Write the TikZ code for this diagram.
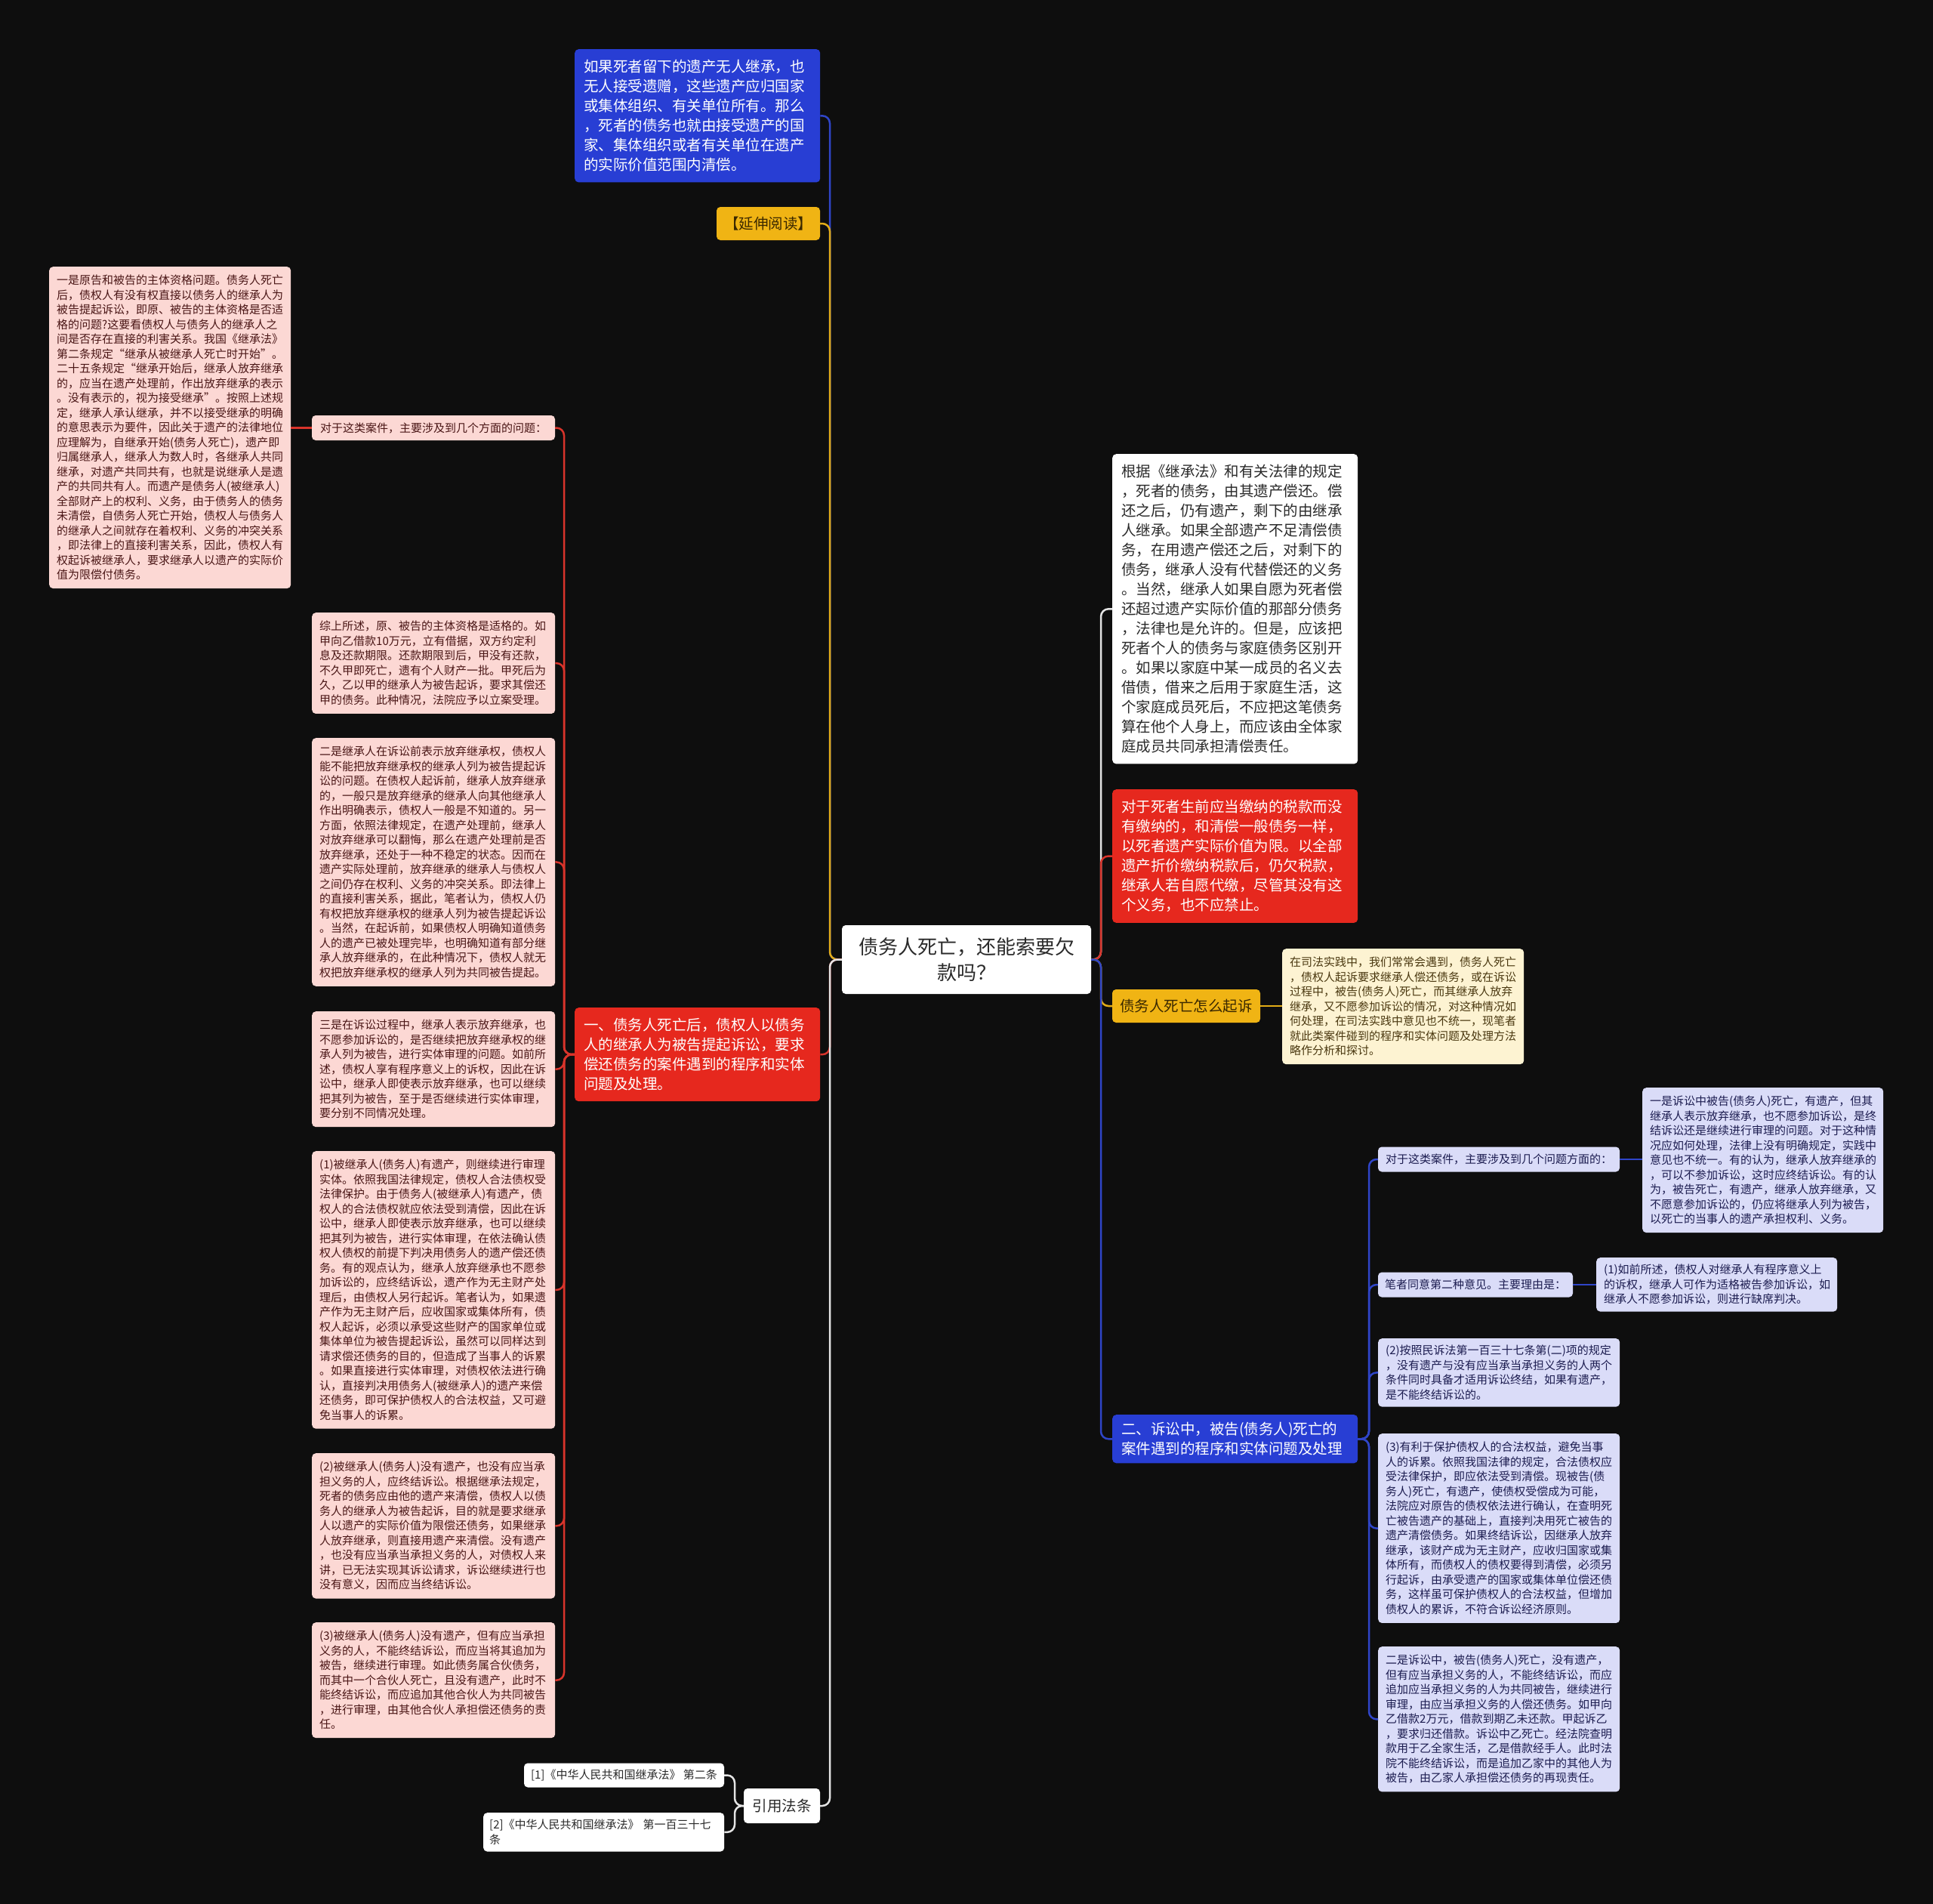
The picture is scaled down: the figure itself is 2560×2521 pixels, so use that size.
\documentclass[tikz,border=0pt]{standalone}
\usepackage{fontspec}
\newfontfamily\zh{Noto Sans CJK SC}
\usetikzlibrary{positioning,calc}
\definecolor{bg}{HTML}{0E0E0E}
\definecolor{bluebg}{HTML}{283ED4}
\definecolor{redbg}{HTML}{E6281E}
\definecolor{yellowbg}{HTML}{F0B414}
\definecolor{pinkbg}{HTML}{FCD8D4}
\definecolor{pinktx}{HTML}{4A1616}
\definecolor{lavbg}{HTML}{DADCF8}
\definecolor{lavtx}{HTML}{1C1C50}
\definecolor{creambg}{HTML}{FDF3D2}
\definecolor{creamtx}{HTML}{4A3810}
\definecolor{yellowtx}{HTML}{3A2800}
\definecolor{greytx}{HTML}{2A2A2A}
\definecolor{blueln}{HTML}{2F45C8}
\definecolor{redln}{HTML}{D9342B}
\definecolor{yellowln}{HTML}{E2AC17}
\definecolor{whiteln}{HTML}{E4E4E4}

\begin{document}
\begin{tikzpicture}[x=1pt,y=-1pt,
  sfont/.style={font=\zh\fontsize{15}{19.5}\selectfont},
  bfont/.style={font=\zh\fontsize{19.5}{26}\selectfont},
  box/.style={sfont,rounded corners=5pt,inner xsep=10pt,inner ysep=11pt,align=left,text width=302pt,anchor=north west},
  bigbox/.style={box,bfont,inner xsep=12pt,inner ysep=14pt,text width=301pt},
  pinkbox/.style={box,fill=pinkbg,text=pinktx},
  lavbox/.style={box,fill=lavbg,text=lavtx},
  tag/.style={rounded corners=5pt,inner sep=0pt,align=center},
  link/.style={line width=2.5pt,rounded corners=10pt}]
\useasboundingbox (0,0) rectangle (2560,2521);
\fill[bg] (0,0) rectangle (2560,2521);

\node[tag,fill=white,text=greytx,font=\zh\fontsize{26}{34}\selectfont,minimum width=330pt,minimum height=91pt] (root) at (1280,1270.5) {债务人死亡，还能索要欠\\款吗？};

\node[bigbox,fill=bluebg,text=white] (estate) at (761,65) {如果死者留下的遗产无人继承，也\\无人接受遗赠，这些遗产应归国家\\或集体组织、有关单位所有。那么\\，死者的债务也就由接受遗产的国\\家、集体组织或者有关单位在遗产\\的实际价值范围内清偿。};
\node[tag,bfont,fill=yellowbg,text=yellowtx,minimum width=137pt,minimum height=44pt] (readmore) at (1017.5,296) {【延伸阅读】};
\node[bigbox,fill=redbg,text=white] (part1) at (761,1334) {一、债务人死亡后，债权人以债务\\人的继承人为被告提起诉讼，要求\\偿还债务的案件遇到的程序和实体\\问题及处理。};
\node[tag,bfont,fill=white,text=greytx,minimum width=101pt,minimum height=46pt] (cite) at (1035.5,2391) {引用法条};
\node[tag,sfont,fill=white,text=greytx,minimum width=265pt,minimum height=32pt] (c1) at (826.5,2350.5) {[1]《中华人民共和国继承法》~第二条};
\node[box,fill=white,text=greytx,inner xsep=8pt,inner ysep=9pt,text width=303pt] (c2) at (640,2400) {[2]《中华人民共和国继承法》~第一百三十七\\条};

\node[tag,sfont,fill=pinkbg,text=pinktx,minimum width=322pt,minimum height=33pt] (p1q) at (574,566.5) {对于这类案件，主要涉及到几个方面的问题：};
\node[pinkbox,text width=300pt] (p1a) at (65,353) {一是原告和被告的主体资格问题。债务人死亡\\后，债权人有没有权直接以债务人的继承人为\\被告提起诉讼，即原、被告的主体资格是否适\\格的问题?这要看债权人与债务人的继承人之\\间是否存在直接的利害关系。我国《继承法》\\第二条规定“继承从被继承人死亡时开始”。\\二十五条规定“继承开始后，继承人放弃继承\\的，应当在遗产处理前，作出放弃继承的表示\\。没有表示的，视为接受继承”。按照上述规\\定，继承人承认继承，并不以接受继承的明确\\的意思表示为要件，因此关于遗产的法律地位\\应理解为，自继承开始(债务人死亡)，遗产即\\归属继承人，继承人为数人时，各继承人共同\\继承，对遗产共同共有，也就是说继承人是遗\\产的共同共有人。而遗产是债务人(被继承人)\\全部财产上的权利、义务，由于债务人的债务\\未清偿，自债务人死亡开始，债权人与债务人\\的继承人之间就存在着权利、义务的冲突关系\\，即法律上的直接利害关系，因此，债权人有\\权起诉被继承人，要求继承人以遗产的实际价\\值为限偿付债务。};
\node[pinkbox] (p1b) at (413,811) {综上所述，原、被告的主体资格是适格的。如\\甲向乙借款10万元，立有借据，双方约定利\\息及还款期限。还款期限到后，甲没有还款，\\不久甲即死亡，遗有个人财产一批。甲死后为\\久，乙以甲的继承人为被告起诉，要求其偿还\\甲的债务。此种情况，法院应予以立案受理。};
\node[pinkbox] (p1c) at (413,977) {二是继承人在诉讼前表示放弃继承权，债权人\\能不能把放弃继承权的继承人列为被告提起诉\\讼的问题。在债权人起诉前，继承人放弃继承\\的，一般只是放弃继承的继承人向其他继承人\\作出明确表示，债权人一般是不知道的。另一\\方面，依照法律规定，在遗产处理前，继承人\\对放弃继承可以翻悔，那么在遗产处理前是否\\放弃继承，还处于一种不稳定的状态。因而在\\遗产实际处理前，放弃继承的继承人与债权人\\之间仍存在权利、义务的冲突关系。即法律上\\的直接利害关系，据此，笔者认为，债权人仍\\有权把放弃继承权的继承人列为被告提起诉讼\\。当然，在起诉前，如果债权人明确知道债务\\人的遗产已被处理完毕，也明确知道有部分继\\承人放弃继承的，在此种情况下，债权人就无\\权把放弃继承权的继承人列为共同被告提起。};
\node[pinkbox] (p1d) at (413,1339) {三是在诉讼过程中，继承人表示放弃继承，也\\不愿参加诉讼的，是否继续把放弃继承权的继\\承人列为被告，进行实体审理的问题。如前所\\述，债权人享有程序意义上的诉权，因此在诉\\讼中，继承人即使表示放弃继承，也可以继续\\把其列为被告，至于是否继续进行实体审理，\\要分别不同情况处理。};
\node[pinkbox] (p1e) at (413,1524) {(1)被继承人(债务人)有遗产，则继续进行审理\\实体。依照我国法律规定，债权人合法债权受\\法律保护。由于债务人(被继承人)有遗产，债\\权人的合法债权就应依法受到清偿，因此在诉\\讼中，继承人即使表示放弃继承，也可以继续\\把其列为被告，进行实体审理，在依法确认债\\权人债权的前提下判决用债务人的遗产偿还债\\务。有的观点认为，继承人放弃继承也不愿参\\加诉讼的，应终结诉讼，遗产作为无主财产处\\理后，由债权人另行起诉。笔者认为，如果遗\\产作为无主财产后，应收国家或集体所有，债\\权人起诉，必须以承受这些财产的国家单位或\\集体单位为被告提起诉讼，虽然可以同样达到\\请求偿还债务的目的，但造成了当事人的诉累\\。如果直接进行实体审理，对债权依法进行确\\认，直接判决用债务人(被继承人)的遗产来偿\\还债务，即可保护债权人的合法权益，又可避\\免当事人的诉累。};
\node[pinkbox] (p1f) at (413,1924) {(2)被继承人(债务人)没有遗产，也没有应当承\\担义务的人，应终结诉讼。根据继承法规定，\\死者的债务应由他的遗产来清偿，债权人以债\\务人的继承人为被告起诉，目的就是要求继承\\人以遗产的实际价值为限偿还债务，如果继承\\人放弃继承，则直接用遗产来清偿。没有遗产\\，也没有应当承当承担义务的人，对债权人来\\讲，已无法实现其诉讼请求，诉讼继续进行也\\没有意义，因而应当终结诉讼。};
\node[pinkbox] (p1g) at (413,2148) {(3)被继承人(债务人)没有遗产，但有应当承担\\义务的人，不能终结诉讼，而应当将其追加为\\被告，继续进行审理。如此债务属合伙债务，\\而其中一个合伙人死亡，且没有遗产，此时不\\能终结诉讼，而应追加其他合伙人为共同被告\\，进行审理，由其他合伙人承担偿还债务的责\\任。};

\node[bigbox,fill=white,text=greytx] (rule) at (1473,601) {根据《继承法》和有关法律的规定\\，死者的债务，由其遗产偿还。偿\\还之后，仍有遗产，剩下的由继承\\人继承。如果全部遗产不足清偿债\\务，在用遗产偿还之后，对剩下的\\债务，继承人没有代替偿还的义务\\。当然，继承人如果自愿为死者偿\\还超过遗产实际价值的那部分债务\\，法律也是允许的。但是，应该把\\死者个人的债务与家庭债务区别开\\。如果以家庭中某一成员的名义去\\借债，借来之后用于家庭生活，这\\个家庭成员死后，不应把这笔债务\\算在他个人身上，而应该由全体家\\庭成员共同承担清偿责任。};
\node[bigbox,fill=redbg,text=white] (tax) at (1473,1045) {对于死者生前应当缴纳的税款而没\\有缴纳的，和清偿一般债务一样，\\以死者遗产实际价值为限。以全部\\遗产折价缴纳税款后，仍欠税款，\\继承人若自愿代缴，尽管其没有这\\个义务，也不应禁止。};
\node[tag,bfont,fill=yellowbg,text=yellowtx,minimum width=196pt,minimum height=44pt] (howsue) at (1571,1332) {债务人死亡怎么起诉};
\node[box,fill=creambg,text=creamtx,text width=300pt] (sueintro) at (1698,1256) {在司法实践中，我们常常会遇到，债务人死亡\\，债权人起诉要求继承人偿还债务，或在诉讼\\过程中，被告(债务人)死亡，而其继承人放弃\\继承，又不愿参加诉讼的情况，对这种情况如\\何处理，在司法实践中意见也不统一，现笔者\\就此类案件碰到的程序和实体问题及处理方法\\略作分析和探讨。};
\node[bigbox,fill=bluebg,text=white,inner ysep=10pt] (part2) at (1473,1873) {二、诉讼中，被告(债务人)死亡的\\案件遇到的程序和实体问题及处理};

\node[tag,sfont,fill=lavbg,text=lavtx,minimum width=320pt,minimum height=33pt] (p2q) at (1985,1535) {对于这类案件，主要涉及到几个问题方面的：};
\node[lavbox,text width=299pt] (p2qa) at (2175,1440) {一是诉讼中被告(债务人)死亡，有遗产，但其\\继承人表示放弃继承，也不愿参加诉讼，是终\\结诉讼还是继续进行审理的问题。对于这种情\\况应如何处理，法律上没有明确规定，实践中\\意见也不统一。有的认为，继承人放弃继承的\\，可以不参加诉讼，这时应终结诉讼。有的认\\为，被告死亡，有遗产，继承人放弃继承，又\\不愿意参加诉讼的，仍应将继承人列为被告，\\以死亡的当事人的遗产承担权利、义务。};
\node[tag,sfont,fill=lavbg,text=lavtx,minimum width=258pt,minimum height=33pt] (p2r) at (1954,1701) {笔者同意第二种意见。主要理由是：};
\node[lavbox,text width=299pt,inner ysep=9pt] (p2r1) at (2114,1665) {(1)如前所述，债权人对继承人有程序意义上\\的诉权，继承人可作为适格被告参加诉讼，如\\继承人不愿参加诉讼，则进行缺席判决。};
\node[lavbox,text width=300pt,inner ysep=9pt] (p2r2) at (1825,1772) {(2)按照民诉法第一百三十七条第(二)项的规定\\，没有遗产与没有应当承当承担义务的人两个\\条件同时具备才适用诉讼终结，如果有遗产，\\是不能终结诉讼的。};
\node[lavbox,text width=300pt] (p2r3) at (1825,1898) {(3)有利于保护债权人的合法权益，避免当事\\人的诉累。依照我国法律的规定，合法债权应\\受法律保护，即应依法受到清偿。现被告(债\\务人)死亡，有遗产，使债权受偿成为可能，\\法院应对原告的债权依法进行确认，在查明死\\亡被告遗产的基础上，直接判决用死亡被告的\\遗产清偿债务。如果终结诉讼，因继承人放弃\\继承，该财产成为无主财产，应收归国家或集\\体所有，而债权人的债权要得到清偿，必须另\\行起诉，由承受遗产的国家或集体单位偿还债\\务，这样虽可保护债权人的合法权益，但增加\\债权人的累诉，不符合诉讼经济原则。};
\node[lavbox,text width=300pt] (p2two) at (1825,2180) {二是诉讼中，被告(债务人)死亡，没有遗产，\\但有应当承担义务的人，不能终结诉讼，而应\\追加应当承担义务的人为共同被告，继续进行\\审理，由应当承担义务的人偿还债务。如甲向\\乙借款2万元，借款到期乙未还款。甲起诉乙\\，要求归还借款。诉讼中乙死亡。经法院查明\\款用于乙全家生活，乙是借款经手人。此时法\\院不能终结诉讼，而是追加乙家中的其他人为\\被告，由乙家人承担偿还债务的再现责任。};

\coordinate (lt) at (1099,0);
\coordinate (rt) at (1458,0);
\coordinate (pt1) at (747,0);
\coordinate (pt2) at (1813,0);
\coordinate (ct) at (973,0);

\draw[link,blueln] (root.west) -- (root.west -| lt) |- (estate.east);
\draw[link,yellowln] (root.west) -- (root.west -| lt) |- (readmore.east);
\draw[link,redln] (root.west) -- (root.west -| lt) |- (part1.east);
\draw[link,whiteln] (root.west) -- (root.west -| lt) |- (cite.east);
\draw[link,whiteln] (root.east) -- (root.east -| rt) |- (rule.west);
\draw[link,redln] (root.east) -- (root.east -| rt) |- (tax.west);
\draw[link,yellowln] (root.east) -- (root.east -| rt) |- (howsue.west);
\draw[link,blueln] (root.east) -- (root.east -| rt) |- (part2.west);

\foreach \n in {p1q,p1b,p1c,p1d,p1e,p1f,p1g}
  \draw[link,redln] (part1.west) -- (part1.west -| pt1) |- (\n.east);
\draw[link,redln] (p1q.west) -- (p1q.west -| p1a.east);
\foreach \n in {c1,c2}
  \draw[link,whiteln] (cite.west) -- (cite.west -| ct) |- (\n.east);
\draw[link,yellowln] (howsue.east) -- (howsue.east -| sueintro.west);
\foreach \n in {p2q,p2r,p2r2,p2r3,p2two}
  \draw[link,blueln] (part2.east) -- (part2.east -| pt2) |- (\n.west);
\draw[link,blueln] (p2q.east) -- (p2q.east -| p2qa.west);
\draw[link,blueln] (p2r.east) -- (p2r.east -| p2r1.west);
\end{tikzpicture}
\end{document}
